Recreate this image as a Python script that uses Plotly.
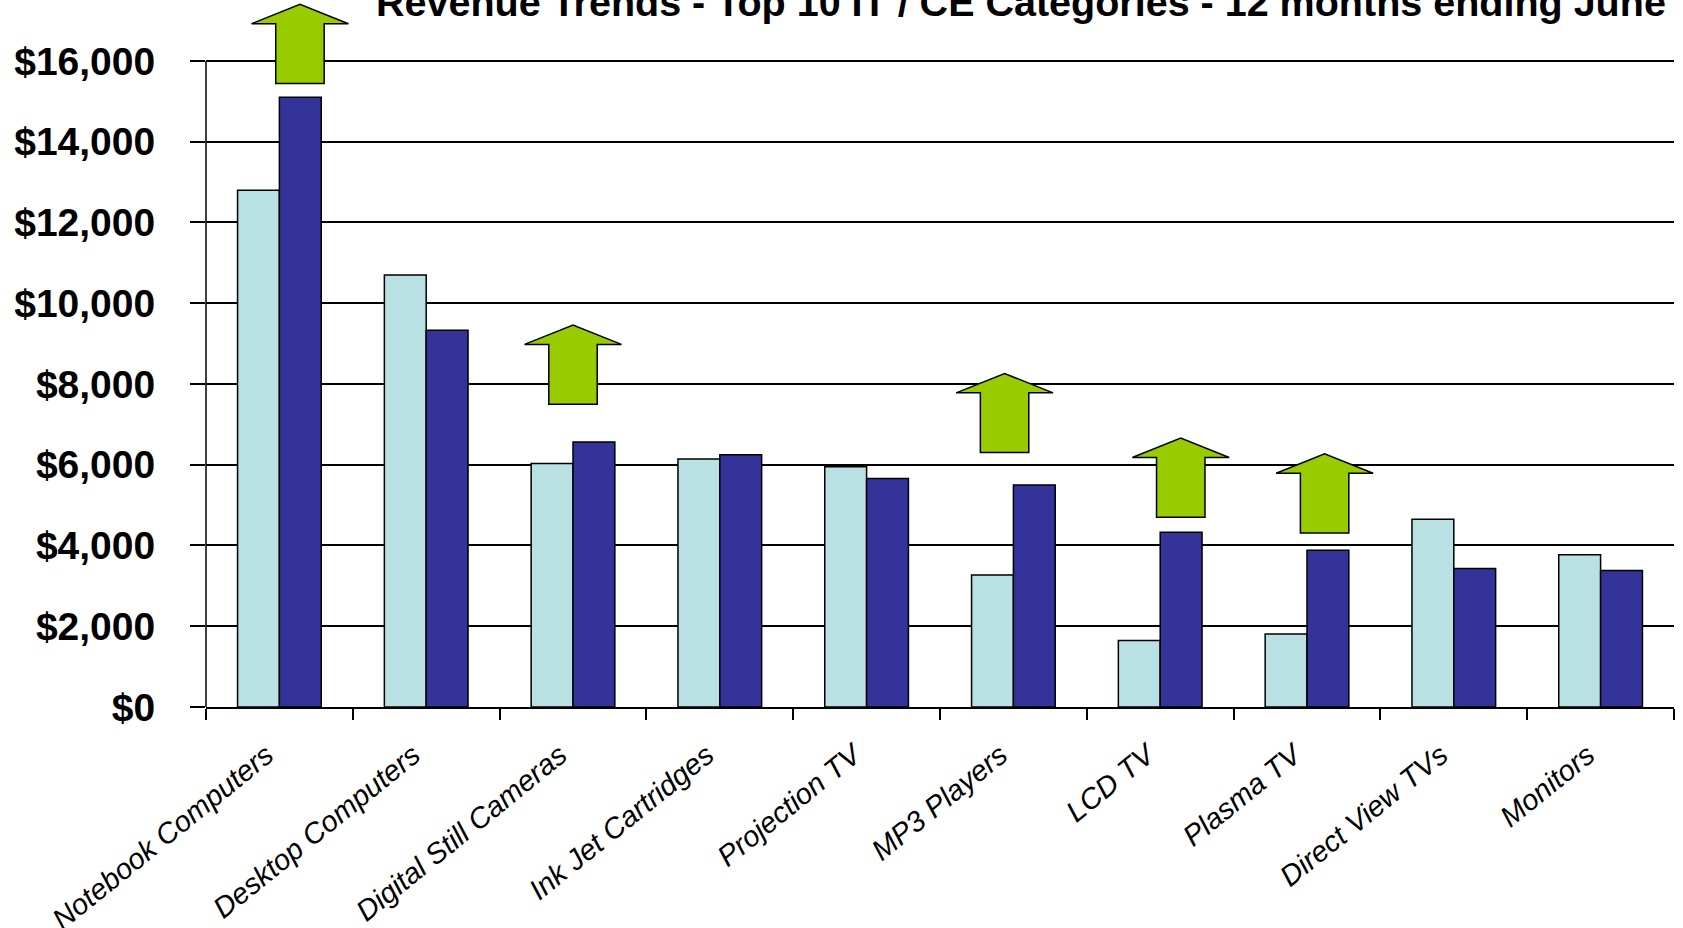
import plotly.graph_objects as go

# ---------------- data ----------------
categories = ["Notebook Computers", "Desktop Computers", "Digital Still Cameras",
              "Ink Jet Cartridges", "Projection TV", "MP3 Players", "LCD TV",
              "Plasma TV", "Direct View TVs", "Monitors"]
prior_period = [12800, 10700, 6030, 6140, 5950, 3270, 1650, 1810, 4650, 3770]
current_period = [15100, 9330, 6560, 6250, 5660, 5500, 4330, 3880, 3430, 3380]

y_tick_values = [0, 2000, 4000, 6000, 8000, 10000, 12000, 14000, 16000]
y_tick_labels = ["$0", "$2,000", "$4,000", "$6,000", "$8,000", "$10,000",
                 "$12,000", "$14,000", "$16,000"]

# growth arrows: category and the value at which the arrow starts
arrow_categories = ["Notebook Computers", "Digital Still Cameras", "MP3 Players",
                    "LCD TV", "Plasma TV"]
arrow_base_values = [15440, 7500, 6300, 4700, 4310]

title_text = "Revenue Trends - Top 10 IT / CE Categories - 12 months ending June"

# ---------------- style ----------------
FONT = "Liberation Sans Narrow, Arial Narrow, Liberation Sans, Arial, sans-serif"
LIGHT = "#B9E0E3"
DARK = "#333399"
GREEN = "#99CC00"

# arrow placement offsets (in category units) and geometry
arrow_offsets = {"Notebook Computers": 0.14, "Digital Still Cameras": 0.0,
                 "MP3 Players": -0.06, "LCD TV": 0.14, "Plasma TV": 0.12}
HEAD_HALF = 0.33
SHAFT_HALF = 0.165
SHAFT_H = 1480
HEAD_H = 480

x_idx = list(range(len(categories)))

fig = go.Figure()
fig.add_trace(go.Bar(x=x_idx, y=prior_period, name="Prior 12 months",
                     marker=dict(color=LIGHT, line=dict(color="black", width=1.5))))
fig.add_trace(go.Bar(x=x_idx, y=current_period, name="12 months ending June",
                     marker=dict(color=DARK, line=dict(color="black", width=1.5))))

shapes = []
for cat, base in zip(arrow_categories, arrow_base_values):
    cx = categories.index(cat) + arrow_offsets[cat]
    pts = [(cx - SHAFT_HALF, base), (cx + SHAFT_HALF, base),
           (cx + SHAFT_HALF, base + SHAFT_H), (cx + HEAD_HALF, base + SHAFT_H),
           (cx, base + SHAFT_H + HEAD_H), (cx - HEAD_HALF, base + SHAFT_H),
           (cx - SHAFT_HALF, base + SHAFT_H)]
    path = "M " + " L ".join(f"{px},{py}" for px, py in pts) + " Z"
    shapes.append(dict(type="path", path=path, xref="x", yref="y",
                       fillcolor=GREEN, line=dict(color="black", width=1.5),
                       layer="above"))

# y-axis line only up to the top gridline
shapes.append(dict(type="line", xref="paper", yref="y", x0=0, x1=0,
                   y0=0, y1=y_tick_values[-1], line=dict(color="black", width=1.5),
                   layer="above"))

fig.update_layout(
    width=1683, height=928,
    margin=dict(l=206, r=9, t=2, b=221, autoexpand=False),
    paper_bgcolor="white", plot_bgcolor="white",
    barmode="group", bargap=0.43, bargroupgap=0,
    showlegend=False,
    shapes=shapes,
    font=dict(family=FONT, color="black"),
    annotations=[dict(text=title_text, xref="paper", yref="paper", x=0.555, y=1.0,
                      xanchor="center", yanchor="middle", showarrow=False,
                      font=dict(family=FONT, size=39.5, color="black", weight="bold"))],
)

fig.update_xaxes(
    range=[-0.5, len(categories) - 0.5],
    tickmode="array", tickvals=x_idx, ticktext=categories,
    ticks="", tickangle=-39, automargin=False,
    tickfont=dict(family=FONT, size=29, style="italic", color="black"),
    ticklabelstandoff=18, ticklabelshift=-13,
    showline=True, linecolor="black", linewidth=1.5,
    showgrid=False, zeroline=False,
    minor=dict(tickmode="array", tickvals=[i - 0.5 for i in range(len(categories) + 1)],
               ticks="outside", ticklen=11, tickwidth=1.5, tickcolor="black",
               showgrid=False),
)

fig.update_yaxes(
    range=[0, 17460], automargin=False,
    tickmode="array", tickvals=y_tick_values, ticktext=y_tick_labels,
    ticks="outside", ticklen=15, tickwidth=1.5, tickcolor="black",
    tickfont=dict(family=FONT, size=39, weight="bold", color="black"),
    ticklabelstandoff=27,
    showgrid=True, gridcolor="black", gridwidth=1.8,
    showline=False, zeroline=False,
)

fig.write_html("out.html",
               config={"displayModeBar": False},
               post_script="document.body.style.margin='0';document.body.style.overflow='hidden';")
